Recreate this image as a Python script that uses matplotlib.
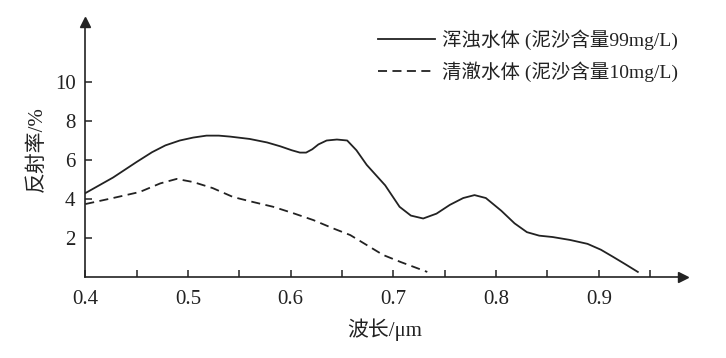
import matplotlib
matplotlib.use("Agg")
import matplotlib.pyplot as plt
from matplotlib.ticker import MultipleLocator

plt.rcParams['font.family'] = ['Liberation Serif', 'Noto Sans CJK SC', 'DejaVu Sans']
plt.rcParams['mathtext.fontset'] = 'stix'

# Turbid water (sediment 99 mg/L)
turbid_wl = [0.400, 0.427, 0.450, 0.465, 0.478, 0.492, 0.505, 0.518, 0.530, 0.541, 0.560,
             0.577, 0.590, 0.601, 0.609, 0.615, 0.621, 0.627, 0.635, 0.645, 0.655, 0.664, 0.674, 0.692,
             0.706, 0.717, 0.729, 0.742, 0.755, 0.768, 0.779, 0.790, 0.805, 0.818, 0.830,
             0.842, 0.855, 0.872, 0.889, 0.902, 0.914, 0.926, 0.938]
turbid_r = [4.30, 5.10, 5.90, 6.40, 6.75, 7.00, 7.15, 7.25, 7.25, 7.20, 7.08,
            6.90, 6.70, 6.50, 6.38, 6.38, 6.55, 6.80, 7.00, 7.05, 7.00, 6.50, 5.75, 4.70,
            3.60, 3.15, 3.00, 3.25, 3.70, 4.05, 4.20, 4.05, 3.40, 2.75, 2.30,
            2.12, 2.05, 1.90, 1.70, 1.40, 1.03, 0.65, 0.26]

# Clear water (sediment 10 mg/L)
clear_wl = [0.400, 0.427, 0.453, 0.473, 0.489, 0.505, 0.524, 0.544, 0.563, 0.583,
            0.602, 0.622, 0.641, 0.658, 0.674, 0.690, 0.707, 0.733]
clear_r = [3.74, 4.05, 4.36, 4.80, 5.03, 4.87, 4.56, 4.10, 3.85, 3.60,
           3.28, 2.92, 2.50, 2.15, 1.64, 1.13, 0.77, 0.26]

legend_labels = ['浑浊水体 (泥沙含量99mg/L)', '清澈水体 (泥沙含量10mg/L)']
x_ticks = [0.4, 0.5, 0.6, 0.7, 0.8, 0.9]
y_ticks = [2, 4, 6, 8, 10]

fig = plt.figure(figsize=(7.26, 3.58), dpi=100)
ax = fig.add_axes([85.3/726, 81/358, (683-85.3)/726, (277-22)/358])

ax.plot(turbid_wl, turbid_r, color='#222222', lw=1.3, ls='-', label=legend_labels[0])
ax.plot(clear_wl, clear_r, color='#222222', lw=1.3, ls=(0, (5, 3)), label=legend_labels[1])

ax.set_xlim(0.4, 0.4 + (683-85.3)/1027)
ax.set_ylim(0, (277-22)/19.5)
for s in ['top', 'right']:
    ax.spines[s].set_visible(False)
for s in ['left', 'bottom']:
    ax.spines[s].set_linewidth(1.2)
    ax.spines[s].set_color('#222222')

ax.plot(1, 0, marker='>', color='#222222', ms=7, transform=ax.transAxes, clip_on=False)
ax.plot(0, 1, marker='^', color='#222222', ms=7, transform=ax.transAxes, clip_on=False)

ax.set_xticks(x_ticks)
ax.set_xticklabels([f'{v:.1f}' for v in x_ticks])
ax.xaxis.set_minor_locator(MultipleLocator(0.05))
ax.set_yticks(y_ticks)
ax.tick_params(axis='both', which='both', direction='in', length=5, width=1.1,
               color='#222222', labelsize=15, labelcolor='#222222')
ax.tick_params(axis='x', pad=9)
ax.tick_params(axis='y', pad=7)

ax.set_xlabel('波长/μm', fontsize=15, color='#222222', labelpad=7)
ax.set_ylabel('反射率/%', fontsize=15, color='#222222', labelpad=6)

leg = ax.legend(loc='upper right', bbox_to_anchor=(688/726, 1 - 20/358),
                bbox_transform=fig.transFigure, frameon=False, fontsize=14,
                handlelength=2.9, handletextpad=0.4, labelspacing=0.55, borderpad=0)
for t in leg.get_texts():
    t.set_color('#222222')

fig.savefig('out.png', dpi=100)
